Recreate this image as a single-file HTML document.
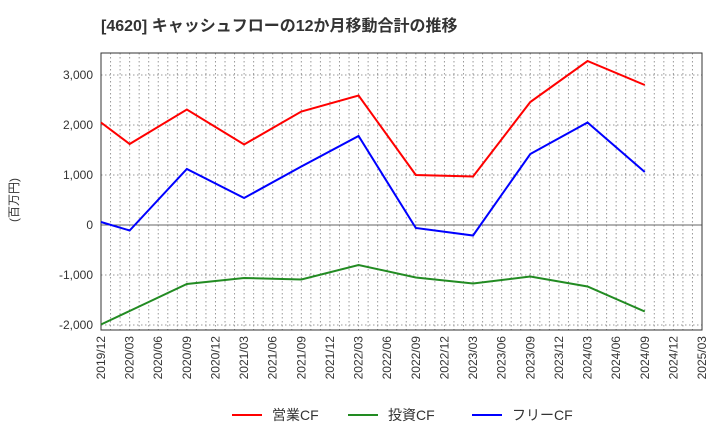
<!DOCTYPE html>
<html><head><meta charset="utf-8"><style>
body{margin:0;background:#fff;font-family:"Liberation Sans","Noto Sans CJK JP",sans-serif}
</style></head><body>
<svg id="c" width="720" height="440" xmlns="http://www.w3.org/2000/svg">
<text x="101" y="31" font-size="16" font-weight="bold" fill="#333">[4620]  キャッシュフローの12か月移動合計の推移</text>
<text transform="translate(18,200) rotate(-90)" font-size="12" fill="#333" text-anchor="middle">(百万円)</text>
<g id="grid"></g><g id="axes"></g><g id="series"></g><g id="legend"></g>
</svg>
<script>
const xLabels=["2019/12","2020/03","2020/06","2020/09","2020/12","2021/03","2021/06","2021/09","2021/12","2022/03","2022/06","2022/09","2022/12","2023/03","2023/06","2023/09","2023/12","2024/03","2024/06","2024/09","2024/12","2025/03"];
const yTicks=[3000,2000,1000,0,-1000,-2000];
const pointQuarters=[0,1,3,5,7,9,11,13,15,17,19];
const operatingCF=[2050,1620,2310,1610,2270,2590,1000,970,2460,3280,2800];
const investingCF=[-1990,-1720,-1180,-1060,-1090,-800,-1050,-1170,-1030,-1230,-1730];
const freeCF=[60,-110,1120,540,1170,1780,-60,-210,1420,2050,1060];
const L=101,R=702,T=53,B=330;
const xs=q=>L+(R-L)*q/21;
const ys=v=>225-v*0.05;
const ns="http://www.w3.org/2000/svg";
function mk(p,t,a){const e=document.createElementNS(ns,t);for(const k in a)e.setAttribute(k,a[k]);p.appendChild(e);return e;}
const grid=document.getElementById('grid'),axes=document.getElementById('axes'),series=document.getElementById('series'),legend=document.getElementById('legend');
for(let m=1;m<63;m++){const x=L+(R-L)*m/63;const l=mk(grid,'line',{x1:x,x2:x,y1:T,y2:B,stroke:'#999','stroke-dasharray':'1.5,2.5','stroke-width':1});

}
yTicks.forEach(v=>{const y=ys(v);const l=mk(grid,'line',{x1:L,x2:R,y1:y,y2:y,stroke:v===0?'#666':'#999','stroke-dasharray':v===0?'':'1.5,2.5','stroke-width':1});


const t=mk(axes,'text',{x:L-8,y:y+4,'text-anchor':'end','font-size':12,fill:'#333'});t.textContent=v.toLocaleString('en-US');

});
const fr=mk(axes,'rect',{x:L,y:T,width:R-L,height:B-T,fill:'none',stroke:'#333','stroke-width':1});


xLabels.forEach((s,i)=>{const x=xs(i);const t=mk(axes,'text',{transform:`translate(${x+4},${B+6}) rotate(-90)`,'text-anchor':'end','font-size':12,fill:'#333'});t.textContent=s;

});
const defs=[[operatingCF,'#ff0000','operating-cf-line','営業CF'],[investingCF,'#228b22','investing-cf-line','投資CF'],[freeCF,'#0000ff','free-cf-line','フリーCF']];
defs.forEach(([d,c,n])=>{const p=mk(series,'polyline',{points:d.map((v,i)=>xs(pointQuarters[i])+','+ys(v)).join(' '),fill:'none',stroke:c,'stroke-width':2});

});
const lx=[232,348,472];
defs.forEach(([d,c,n,lab],i)=>{const g=mk(legend,'g',{});


mk(g,'line',{x1:lx[i],x2:lx[i]+30,y1:415,y2:415,stroke:c,'stroke-width':2});
const t=mk(g,'text',{x:lx[i]+40,y:420,'font-size':14,fill:'#333'});t.textContent=lab;});
</script>
</body></html>
